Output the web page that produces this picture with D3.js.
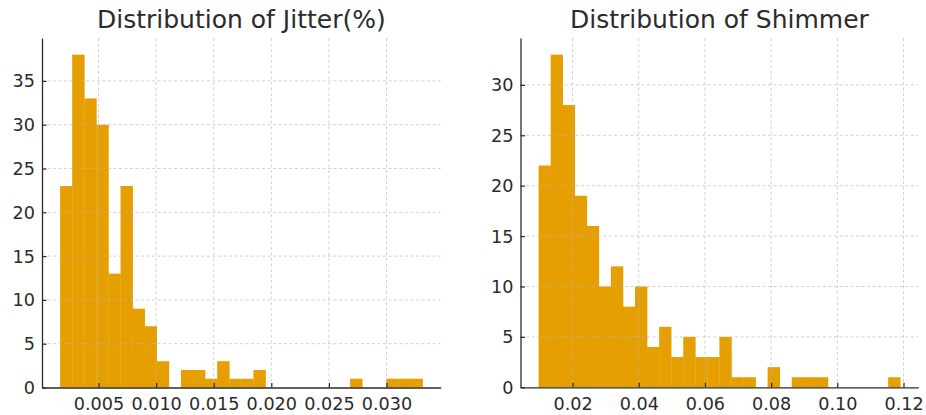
<!DOCTYPE html>
<html>
<head>
<meta charset="utf-8">
<script src="https://cdn.jsdelivr.net/npm/d3@7"></script>
<style>
  body { margin: 0; background: #fff; }
  svg { display: block; font-family: 'DejaVu Sans', sans-serif; }
</style>
</head>
<body>
<div id="chart"></div>
<script>
// Jitter histogram: 30 equal bins between min and max
const jitterRange = [0.00167, 0.03313];
const jitterCounts = [23, 38, 33, 30, 13, 23, 9, 7, 3, 0, 2, 2, 1, 3, 1, 1, 2, 0, 0, 0, 0, 0, 0, 0, 1, 0, 0, 1, 1, 1];
const jitterXTicks = [0.005, 0.010, 0.015, 0.020, 0.025, 0.030];
const jitterYTicks = [0, 5, 10, 15, 20, 25, 30, 35];

// Shimmer histogram
const shimmerRange = [0.00973, 0.119];
const shimmerCounts = [22, 33, 28, 19, 16, 10, 12, 8, 10, 4, 6, 3, 5, 3, 3, 5, 1, 1, 0, 2, 0, 1, 1, 1, 0, 0, 0, 0, 0, 1];
const shimmerXTicks = [0.02, 0.04, 0.06, 0.08, 0.10, 0.12];
const shimmerYTicks = [0, 5, 10, 15, 20, 25, 30];

const width = 926;
const height = 415;
const barColor = '#E69F00';
const textColor = '#2b2b2b';

const svg = d3.select('#chart')
  .append('svg')
  .attr('width', width)
  .attr('height', height);

drawHist({
  title: 'Distribution of Jitter(%)',
  range: jitterRange,
  counts: jitterCounts,
  xTicks: jitterXTicks,
  yTicks: jitterYTicks,
  xFormat: d3.format('.3f'),
  box: { left: 42, right: 440.7, top: 38, bottom: 387.5 }
});

drawHist({
  title: 'Distribution of Shimmer',
  range: shimmerRange,
  counts: shimmerCounts,
  xTicks: shimmerXTicks,
  yTicks: shimmerYTicks,
  xFormat: d3.format('.2f'),
  box: { left: 520.5, right: 918.3, top: 38, bottom: 387.3 }
});

function drawHist({ title, range, counts, xTicks, yTicks, xFormat, box }) {
  const n = counts.length;
  const binW = (range[1] - range[0]) / n;
  const bins = counts.map((c, i) => ({
    x0: range[0] + i * binW,
    x1: range[0] + (i + 1) * binW,
    count: c
  }));

  // matplotlib style 5% margins
  const pad = (range[1] - range[0]) * 0.05;
  const x = d3.scaleLinear()
    .domain([range[0] - pad, range[1] + pad])
    .range([box.left, box.right]);

  const yMax = d3.max(counts) * 1.05;
  const y = d3.scaleLinear()
    .domain([0, yMax])
    .range([box.bottom, box.top]);

  const g = svg.append('g');

  // bars
  g.append('g')
    .selectAll('rect')
    .data(bins.filter((d) => d.count > 0))
    .join('rect')
    .attr('x', (d) => x(d.x0))
    .attr('y', (d) => y(d.count))
    .attr('width', (d) => x(d.x1) - x(d.x0) + 0.3)
    .attr('height', (d) => y(0) - y(d.count))
    .attr('fill', barColor);

  // grid sits over the bars, faintly
  const grid = g.append('g')
    .attr('stroke', '#b8b8b8')
    .attr('stroke-opacity', 0.7)
    .attr('stroke-width', 0.9)
    .attr('stroke-dasharray', '3,2.5');

  grid.selectAll('.vgrid')
    .data(xTicks)
    .join('line')
    .attr('class', 'vgrid')
    .attr('x1', (d) => x(d))
    .attr('x2', (d) => x(d))
    .attr('y1', box.top)
    .attr('y2', box.bottom);

  grid.selectAll('.hgrid')
    .data(yTicks.filter((d) => d > 0))
    .join('line')
    .attr('class', 'hgrid')
    .attr('x1', box.left)
    .attr('x2', box.right)
    .attr('y1', (d) => y(d))
    .attr('y2', (d) => y(d));

  // axes, ticks pointing inward
  const xAxis = g.append('g')
    .attr('transform', `translate(0, ${box.bottom})`)
    .call(d3.axisBottom(x).tickValues(xTicks).tickFormat(xFormat).tickSizeInner(-4.5).tickSizeOuter(0).tickPadding(10));

  const yAxis = g.append('g')
    .attr('transform', `translate(${box.left}, 0)`)
    .call(d3.axisLeft(y).tickValues(yTicks).tickFormat(d3.format('d')).tickSizeInner(-4.5).tickSizeOuter(0).tickPadding(7));

  [xAxis, yAxis].forEach((ax) => {
    ax.select('.domain').attr('stroke', textColor).attr('stroke-width', 1.3);
    ax.selectAll('.tick line').attr('stroke', textColor).attr('stroke-width', 1.2);
    ax.selectAll('text')
      .attr('fill', textColor)
      .attr('font-size', '17.6px')
      .attr('font-family', 'DejaVu Sans');
  });
  xAxis.selectAll('text').attr('dy', '0.71em');
  yAxis.selectAll('text').attr('dy', '0.34em');

  g.append('text')
    .attr('x', (box.left + box.right) / 2)
    .attr('y', 28)
    .attr('text-anchor', 'middle')
    .attr('fill', textColor)
    .attr('font-size', '25px')
    .text(title);
}
</script>
</body>
</html>
